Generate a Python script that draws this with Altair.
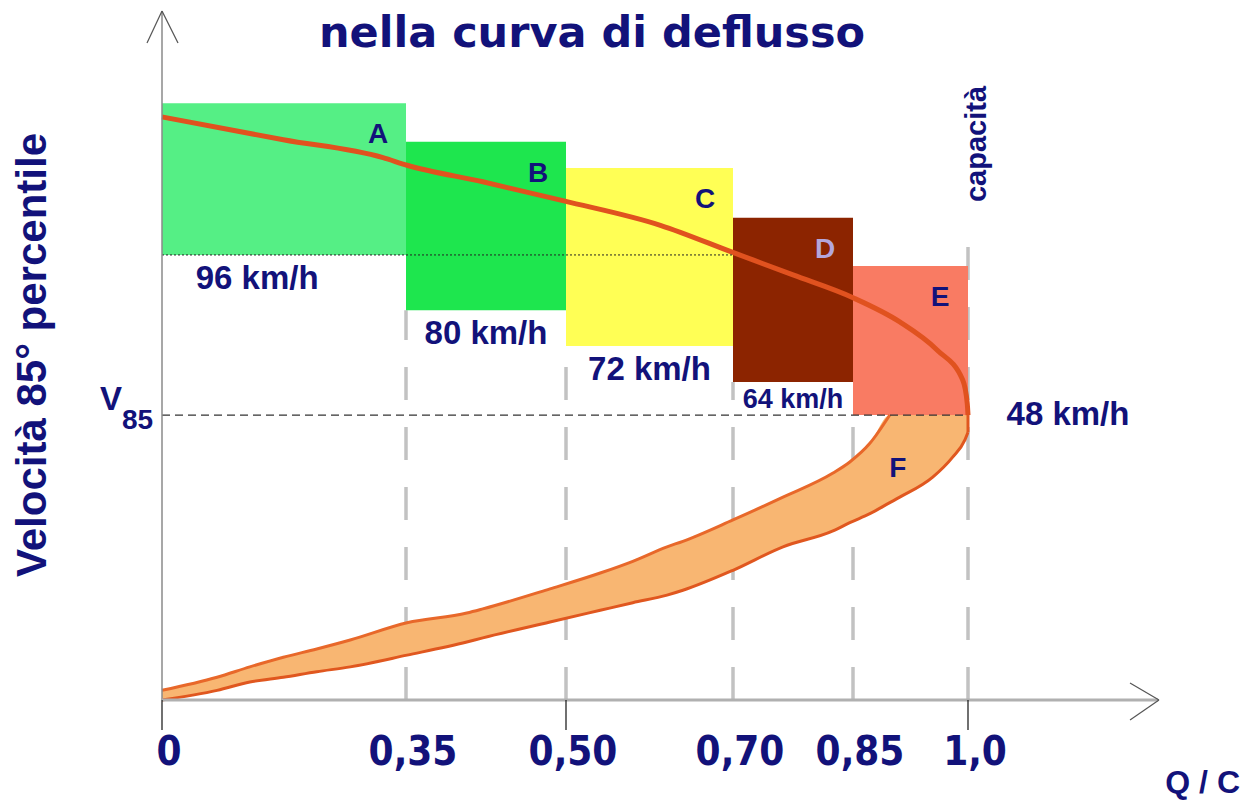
import altair as alt
import pandas as pd

# ---------------- data ----------------
tick_q = [0, 0.35, 0.50, 0.70, 0.85, 1.0]
tick_labels = ["0", "0,35", "0,50", "0,70", "0,85", "1,0"]

zones = ["A", "B", "C", "D", "E"]
zone_q0 = [0.0, 0.35, 0.50, 0.70, 0.85]
zone_q1 = [0.35, 0.50, 0.70, 0.85, 1.0]
zone_top = [86.5, 80.9, 77.1, 69.9, 62.9]      # schematic speed level (0-100)
zone_bottom = [64.5, 56.5, 51.3, 46.1, 41.3]
zone_speed = ["96 km/h", "80 km/h", "72 km/h", "64 km/h", "48 km/h"]
zone_colors = ["#55ef85", "#1ee64e", "#ffff55", "#8c2400", "#f97b63"]

v85_level = 41.3
capacity_top = 69.5

# upper branch of the speed-flow curve (uncongested)
curve_q = [0.0, 0.174, 0.317, 0.351, 0.422, 0.499, 0.613, 0.699, 0.775, 0.85,
           0.911, 0.960, 0.993, 0.999, 1.0]
curve_lvl = [84.5, 81.2, 78.6, 77.5, 75.1, 72.3, 68.8, 64.9, 61.6, 58.3,
             54.8, 50.7, 46.4, 43.0, 41.3]

# lower branch (zone F band): inner and outer edge
band_q = [0.0, 0.079, 0.126, 0.174, 0.222, 0.270, 0.351, 0.407, 0.422, 0.485,
          0.541, 0.580, 0.621, 0.640, 0.700, 0.7625, 0.825, 0.846, 0.872, 0.898,
          0.911, 0.954, 0.980, 0.996, 1.0]
band_top = [1.4, 3.3, 4.8, 6.2, 7.4, 8.7, 11.2, 12.6, 13.2, 16.1,
            18.4, 20.1, 22.2, 23.0, 26.1, 29.4, 32.9, 34.5, 37.2, 41.3,
            41.3, 41.3, 41.3, 41.3, 41.3]
band_bot = [0.0, 1.4, 2.6, 3.3, 4.1, 4.8, 6.5, 8.4, 9.0, 11.3,
            13.0, 14.1, 15.2, 15.9, 18.8, 22.2, 24.5, 25.7, 27.0, 28.6,
            29.4, 32.3, 35.2, 37.7, 38.8]

NAVY = "#12127a"
FONT = "Liberation Sans, Arial, sans-serif"
TITLE_FONT = "DejaVu Sans, Liberation Sans, sans-serif"
NARROW = "Liberation Sans Narrow, DejaVu Sans Condensed, Arial Narrow, Liberation Sans, sans-serif"

# ---------------- tables ----------------
zones_df = pd.DataFrame({"zone": zones, "q0": zone_q0, "q1": zone_q1,
                         "top": zone_top, "bottom": zone_bottom, "speed": zone_speed})
zones_df["qstart"] = 0.0
curve_df = pd.DataFrame({"q": curve_q, "lvl": curve_lvl})
band_df = pd.DataFrame({"q": band_q, "top": band_top, "bot": band_bot})
inner_df = band_df[band_df["q"] <= 0.898]
vert_df = pd.DataFrame({"q": zone_q1,
                        "ytop": zone_bottom[1:] + [capacity_top]})
vert_df["y0"] = 0.0
ticks_df = pd.DataFrame({"q": tick_q, "label": tick_labels})
one = pd.DataFrame({"v85": [v85_level]})
nose_df = pd.DataFrame({"q": [band_q[-1]], "a": [band_bot[-1]], "b": [v85_level]})

xs = alt.Scale(domain=[0, 0.35, 0.5, 0.7, 0.85, 1.0, 1.2],
               range=[154, 398, 558, 725, 845, 960, 1150], zero=False, nice=False)
ys = alt.Scale(domain=[0, 100], range=[692, 2], zero=False, nice=False)


def X(f):
    return alt.X(f, type="quantitative", scale=xs, axis=None)


def Y(f):
    return alt.Y(f, type="quantitative", scale=ys, axis=None)


verticals = alt.Chart(vert_df).mark_rule(
    color="#c2c2c2", strokeWidth=3.5, strokeDash=[33, 27]
).encode(x=X("q"), y=Y("y0"), y2="ytop")

bars = alt.Chart(zones_df).mark_rect().encode(
    x=X("q0"), x2="q1", y=Y("top"), y2="bottom",
    color=alt.Color("zone:N", scale=alt.Scale(domain=zones, range=zone_colors), legend=None),
)

band = alt.Chart(band_df).mark_area(color="#f8b672", opacity=1, interpolate="monotone").encode(
    x=X("q"), y=Y("top"), y2="bot")

inner = alt.Chart(inner_df).mark_line(color="#e8682a", strokeWidth=3, interpolate="monotone").encode(
    x=X("q"), y=Y("top"))

outer = alt.Chart(band_df).mark_line(color="#e0571f", strokeWidth=3, interpolate="monotone").encode(
    x=X("q"), y=Y("bot"))

nose = alt.Chart(nose_df).mark_rule(color="#e0571f", strokeWidth=3).encode(
    x=X("q"), y=Y("a"), y2="b")

curve = alt.Chart(curve_df).mark_line(color="#e0521f", strokeWidth=5, interpolate="monotone").encode(
    x=X("q"), y=Y("lvl"))

line96 = alt.Chart(zones_df).transform_filter(alt.datum.zone == "A").transform_calculate(
    qend="0.70"
).mark_rule(color="#222", strokeWidth=1, strokeDash=[2, 2]).encode(
    x=X("qstart"), x2="qend:Q", y=Y("bottom"))

linev85 = alt.Chart(zones_df).transform_filter(alt.datum.zone == "E").mark_rule(
    color="#333", strokeWidth=1.3, strokeDash=[8, 5]
).encode(x=X("qstart"), x2="q1", y=Y("bottom"))


# axes (decoration)
def seg(x1, y1, x2, y2, color, w):
    return alt.Chart(one).mark_rule(color=color, strokeWidth=w).encode(
        x=alt.value(x1), y=alt.value(y1), x2=alt.value(x2), y2=alt.value(y2))


yaxis = seg(154, 692, 154, 3, "#8a8a8a", 1.5)
yarrow1 = seg(154, 3, 139, 35, "#555", 1.2)
yarrow2 = seg(154, 3, 170, 35, "#555", 1.2)
xaxis = seg(154, 692, 1150, 692, "#b0b0b0", 3)
xarrow1 = seg(1151, 692, 1122, 675, "#555", 1.2)
xarrow2 = seg(1151, 692, 1122, 712, "#555", 1.2)

minor_ticks = alt.Chart(ticks_df).transform_filter(
    "datum.q == 0 || datum.q == 0.5 || datum.q == 1"
).mark_rule(color="#111", strokeWidth=1.2).encode(
    x=X("q"), y=alt.value(692), y2=alt.value(722))


# ---------------- texts ----------------
def label(txt, x, y, size, angle=0, align="center", baseline="alphabetic", font=FONT):
    return alt.Chart(one).mark_text(
        text=txt, font=font, fontSize=size, fontWeight="bold", color=NAVY,
        angle=angle, align=align, baseline=baseline
    ).encode(x=alt.value(x), y=alt.value(y))


title = label("nella curva di deflusso", 584, 39, 43, font=TITLE_FONT)
ylabel = label("Velocità 85°  percentile", 25, 347, 42, angle=270, baseline="middle")
qc = label("Q / C", 1232, 785, 32, align="right")
capacita = label("capacità", 969, 136, 29, angle=270, baseline="middle")

v_letter = alt.Chart(one).mark_text(
    text="V", font=FONT, fontSize=33, fontWeight="bold", color=NAVY,
    align="left", baseline="alphabetic", dy=-5
).encode(x=alt.value(92), y=Y("v85"))
v_sub = alt.Chart(one).mark_text(
    text="85", font=FONT, fontSize=28, fontWeight="bold", color=NAVY,
    align="left", baseline="alphabetic", dy=14
).encode(x=alt.value(114), y=Y("v85"))

letters = alt.Chart(zones_df).mark_text(
    font=FONT, fontSize=28, fontWeight="bold", align="center", baseline="alphabetic",
    dx=-28, dy=40
).encode(x=X("q1"), y=Y("top"), text="zone:N",
         color=alt.condition(alt.datum.zone == "D", alt.value("#b4a6dc"), alt.value(NAVY)))

letter_f = alt.Chart(band_df).transform_filter("datum.q == 0.911").mark_text(
    text="F", font=FONT, fontSize=28, fontWeight="bold", color=NAVY,
    align="center", baseline="alphabetic", dx=-2, dy=62
).encode(x=X("q"), y=Y("top"))

speed_big = alt.Chart(zones_df).transform_filter(
    "datum.zone == 'A' || datum.zone == 'B' || datum.zone == 'C'"
).transform_calculate(
    lq="datum.zone == 'A' ? datum.q0 + 0.39 * (datum.q1 - datum.q0) : (datum.q0 + datum.q1) / 2"
).mark_text(font=FONT, fontSize=33, fontWeight="bold", color=NAVY,
            align="center", baseline="alphabetic", dy=34
).encode(x=X("lq"), y=Y("bottom"), text="speed:N")

speed_d = alt.Chart(zones_df).transform_filter("datum.zone == 'D'").transform_calculate(
    lq="(datum.q0 + datum.q1) / 2"
).mark_text(font=FONT, fontSize=27, fontWeight="bold", color=NAVY,
            align="center", baseline="alphabetic", dy=26
).encode(x=X("lq"), y=Y("bottom"), text="speed:N")

speed_e = alt.Chart(zones_df).transform_filter("datum.zone == 'E'").mark_text(
    font=FONT, fontSize=33, fontWeight="bold", color=NAVY,
    align="center", baseline="middle", dx=100
).encode(x=X("q1"), y=Y("bottom"), text="speed:N")

tick_text = alt.Chart(ticks_df).mark_text(
    font=NARROW, fontSize=40, fontWeight="bold", color=NAVY,
    align="center", baseline="alphabetic", dx=7
).encode(x=X("q"), y=alt.value(757), text="label:N")

chart = alt.layer(
    verticals, bars, band, inner, outer, nose, curve, line96, linev85,
    yaxis, yarrow1, yarrow2, xaxis, xarrow1, xarrow2, minor_ticks,
    title, ylabel, v_letter, v_sub, letters, letter_f, speed_big, speed_d, speed_e,
    tick_text, qc, capacita,
).properties(
    width=1235, height=792, padding=0,
    autosize=alt.AutoSizeParams(type="none"),
).configure_view(stroke=None)

chart.save("out.html", embed_options={"renderer": "svg", "actions": False})
